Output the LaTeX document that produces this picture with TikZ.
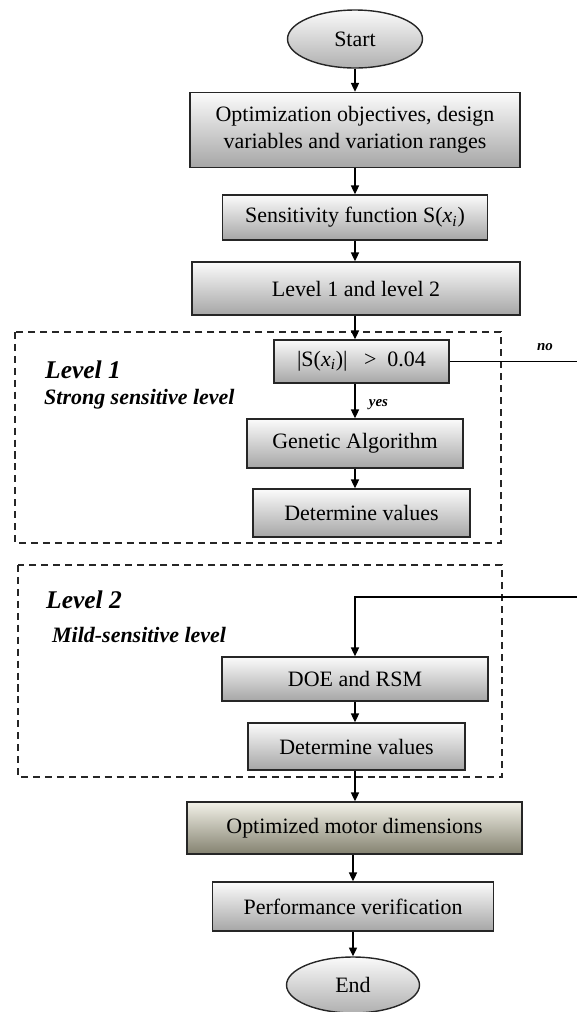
\documentclass[tikz,border=0pt]{standalone}
\usepackage{fontspec}
\setmainfont{Liberation Serif}
\usepackage{tikz}
\usetikzlibrary{shapes,arrows,positioning,calc,arrows.meta}

\tikzset{
    procbox/.style={draw=black!85, line width=0.85pt, top color=gray!3, bottom color=gray!70,
        inner sep=0pt, align=center, font=\fontsize{12.5}{15.5}\selectfont},
    resultbox/.style={procbox, top color={rgb,255:red,242;green,241;blue,232},
        bottom color={rgb,255:red,132;green,130;blue,112}},
    termnode/.style={ellipse, draw=black!85, line width=0.8pt, top color=gray!4, bottom color=gray!62,
        inner sep=0pt, font=\fontsize{12.5}{15}\selectfont},
    flow/.style={-{Triangle[length=5pt,width=4.6pt]}, line width=0.7pt},
    levelbox/.style={draw=black!85, dash pattern=on 4pt off 2.8pt, line width=0.85pt},
    leveltitle/.style={anchor=west, font=\fontsize{14.5}{17}\selectfont\bfseries\itshape},
    levelsub/.style={anchor=west, font=\fontsize{12.5}{15}\selectfont\bfseries\itshape},
    branch/.style={font=\fontsize{8.5}{10}\selectfont\bfseries\itshape}
}

\begin{document}
\begin{tikzpicture}[x=0.02cm, y=-0.02cm]
    \useasboundingbox (0,0) rectangle (577,1012);

    % Level frames
    \draw[levelbox] (15,332) rectangle (501,543);
    \draw[levelbox] (18,565) rectangle (502,777);

    % Main flow
    \node[termnode, minimum width=2.7cm, minimum height=1.16cm] (start) at (355,39) {Start};
    \node[procbox, minimum width=6.6cm, minimum height=1.5cm] (goals) at (355,130)
        {Optimization objectives, design\\variables and variation ranges};
    \node[procbox, minimum width=5.3cm, minimum height=0.9cm] (sens) at (355,217.5)
        {Sensitivity function S(\textit{x}\textsubscript{\textit{i}})};
    \node[procbox, minimum width=6.56cm, minimum height=1.06cm] (levels) at (356,288.5)
        {Level 1 and level 2};

    % Level 1
    \node[leveltitle] (lvlA) at (39,370) {Level 1};
    \node[levelsub] (lvlAsub) at (38,399) {Strong sensitive level};
    \node[procbox, minimum width=3.5cm, minimum height=0.86cm] (cond) at (361.5,361.5)
        {|S(\textit{x}\textsubscript{\textit{i}})|\ \ \ >\ \ 0.04};
    \node[procbox, minimum width=4.32cm, minimum height=0.98cm] (ga) at (355,443.5)
        {Genetic Algorithm};
    \node[procbox, minimum width=4.34cm, minimum height=0.96cm] (detA) at (361.5,513)
        {Determine values};

    % Level 2
    \node[leveltitle] (lvlB) at (40,600) {Level 2};
    \node[levelsub] (lvlBsub) at (46,635) {Mild-sensitive level};
    \node[procbox, minimum width=5.32cm, minimum height=0.88cm] (doe) at (355,679)
        {DOE and RSM};
    \node[procbox, minimum width=4.34cm, minimum height=0.94cm] (detB) at (356.5,746.5)
        {Determine values};

    % Result
    \node[resultbox, minimum width=6.7cm, minimum height=1.04cm] (optdim) at (354.5,828)
        {Optimized motor dimensions};
    \node[procbox, minimum width=5.62cm, minimum height=0.98cm] (perf) at (353,906.5)
        {Performance verification};
    \node[termnode, minimum width=2.66cm, minimum height=1.12cm] (end) at (353,985) {End};

    % Connectors
    \draw[flow] (start) -- (goals);
    \draw[flow] (goals) -- (sens);
    \draw[flow] (sens) -- (sens.south |- levels.north);
    \draw[flow] (levels.south -| start) -- (start |- cond.north);
    \draw[flow] (start |- cond.south) -- (ga.north) node[pos=0.6, right=0.15cm, branch] (yes) {yes};
    \draw[flow] (ga.south) -- (ga.south |- detA.north);

    % no branch
    \coordinate (noR) at (578,361.5);
    \coordinate (noD) at (578,597);
    \coordinate (noL) at (355,597);
    \node[branch] (nolabel) at (545,347) {no};
    \draw[flow] (cond.east) -- (noR) -- (noD) -- (noL) -- (doe.north);

    \draw[flow] (doe.south) -- (doe.south |- detB.north);
    \draw[flow] (detB.south -| doe) -- (doe |- optdim.north);
    \draw[flow] (optdim.south -| perf) -- (perf.north);
    \draw[flow] (perf) -- (end);
\end{tikzpicture}
\end{document}
